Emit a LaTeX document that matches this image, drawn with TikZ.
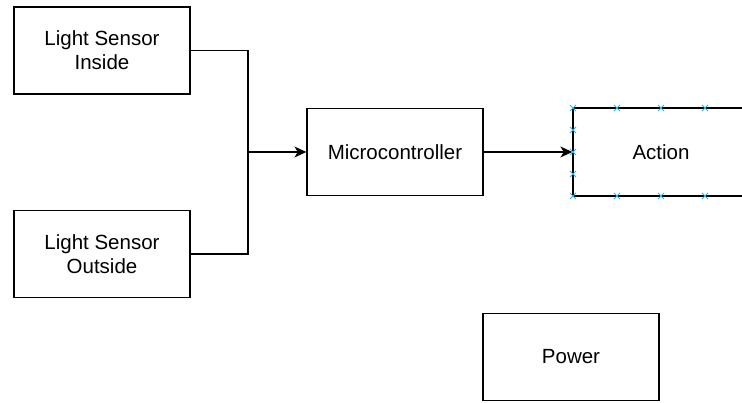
\documentclass[tikz,border=0pt]{standalone}
\usepackage{fontspec}
\setmainfont{Liberation Sans}
\usetikzlibrary{positioning, arrows.meta}
\definecolor{handleblue}{RGB}{41,182,242}
\tikzset{
x=1pt, y=1pt, % one unit is one pixel of the sketch
>={Stealth[length=12pt, width=11pt, inset=3.5pt]}, % filled arrow heads
block/.style={draw, line width=1.3pt, minimum width=176pt, minimum height=87pt,
  align=center, font=\fontsize{20.5}{24}\selectfont}, % every box of the sketch
wire/.style={line width=1.3pt}, % the connecting lines
xhandle/.style={handleblue, line width=1pt}, % the little blue crosses
}

\begin{document}
\begin{tikzpicture}
\clip (0,0) rectangle (742,403);
\node[block] (inside) at (102,352.5) {Light Sensor\\Inside};
\node[block] (outside) at (102,149) {Light Sensor\\Outside};
\node[block] (micro) at (395,251) {Microcontroller};
\node[block, minimum height=88pt] (action) at (661,251) {Action};
\node[block] (power) at (571,46) {Power};
\coordinate (join) at (248,251);
\draw[wire] (inside.east) -| (join)
  (outside.east) -| (join);
\draw[wire, ->] (join) -- (micro.west);
\draw[wire, ->] (micro.east) -- (action.west);
% crosses on the selected box
\foreach \mx in {573,617,661,705} {
  \foreach \my in {295,207}
    \draw[xhandle] (\mx-3,\my-3) -- ++(6,6) (\mx-3,\my+3) -- ++(6,-6);
}
\foreach \my in {273,251,229}
  \draw[xhandle] (570,\my-3) -- ++(6,6) (570,\my+3) -- ++(6,-6);
\end{tikzpicture}
\end{document}
